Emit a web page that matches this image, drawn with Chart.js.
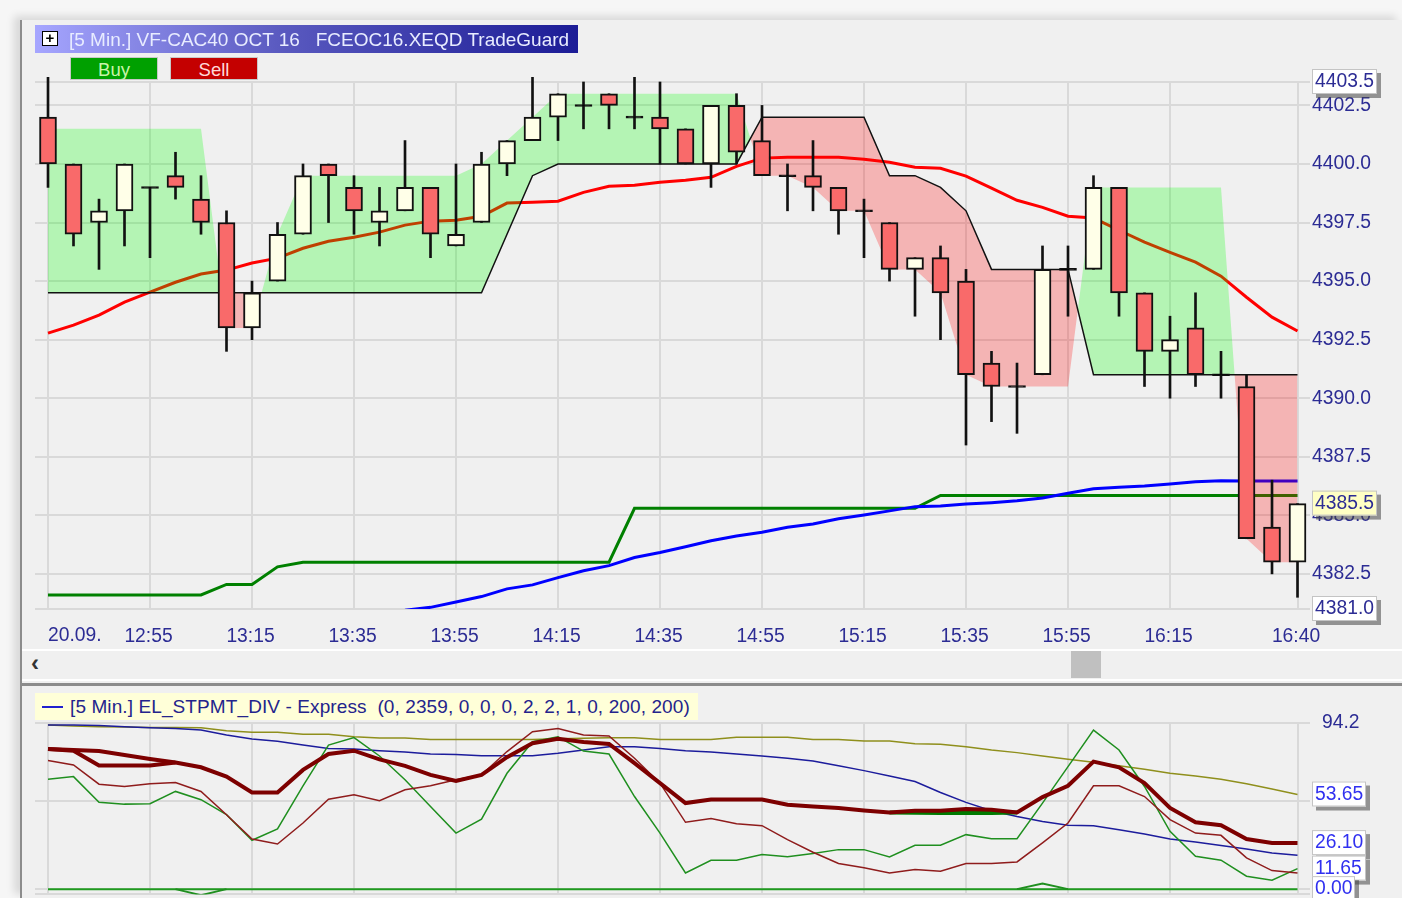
<!DOCTYPE html>
<html>
<head>
<meta charset="utf-8">
<title>VF-CAC40 OCT 16</title>
<script src="https://cdn.jsdelivr.net/npm/chart.js@4"></script>
<style>
html,body{margin:0;padding:0;background:#fff;overflow:hidden;}
#root{position:relative;width:1402px;height:898px;overflow:hidden;background:#f6f6f6;font-family:"Liberation Sans",Arial,sans-serif;filter:blur(.45px);}
#frame{position:absolute;left:20px;top:20px;width:1382px;height:878px;background:#f0f0f0;border-left:2px solid #8c8c8c;box-sizing:border-box;box-shadow:-6px -4px 8px rgba(0,0,0,.12);}
canvas{position:absolute;left:0;}
#mainChart{top:0;}
#subChart{top:685px;}
#titleBar{position:absolute;left:35px;top:25px;width:543px;height:28px;line-height:29px;color:#e8ecff;font-size:19px;white-space:pre;background:linear-gradient(90deg,#a6a6ff,#5a5ac0 45%,#1c1c96);}
#titleBar b{position:absolute;left:7px;top:6px;width:14px;height:13px;border:1.5px solid #000;background:#fff;color:#000;font:bold 15px/12px "Liberation Sans";text-align:center;}
#titleBar span{position:absolute;left:34px;top:0;}
.btn{position:absolute;top:57px;width:88px;height:23px;line-height:23px;text-align:center;font-size:18.5px;border:1px solid #c8c8c8;box-sizing:border-box;}
#buy{left:70px;background:#00a000;color:#c8f4a8;}
#sell{left:170px;background:#c40000;color:#ffd8d8;}
#scrollRow{position:absolute;left:22px;top:649px;width:1380px;height:32px;background:#f0f0f0;border-top:2px solid #fff;border-bottom:2px solid #fff;box-sizing:border-box;}
#arrow{position:absolute;left:9px;top:-6px;font:bold 24px/36px "Liberation Sans";color:#333;}
#thumb{position:absolute;left:1049px;top:0;width:30px;height:27px;background:#c0c0c0;}
#split{position:absolute;left:20px;top:683px;width:1382px;height:3px;background:#8c8c8c;}
#legendBox{position:absolute;left:35px;top:693px;width:663px;height:27px;line-height:27px;background:#ffffd8;color:#24248c;font-size:19px;letter-spacing:.1px;white-space:pre;}
#legendBox i{position:absolute;left:7px;top:13px;width:21px;height:2px;background:#2020d0;}
#legendBox span{position:absolute;left:35px;top:0;}
</style>
</head>
<body>
<div id="root">
  <div id="frame"></div>
  <div id="scrollRow"><div id="arrow">‹</div><div id="thumb"></div></div>
  <div id="split"></div>
  <canvas id="mainChart" width="1402" height="650"></canvas>
  <canvas id="subChart" width="1402" height="233"></canvas>
  <div id="titleBar"><b>+</b><span>[5 Min.] VF-CAC40 OCT 16   FCEOC16.XEQD TradeGuard</span></div>
  <div class="btn" id="buy">Buy</div>
  <div class="btn" id="sell">Sell</div>
  <div id="legendBox"><i></i><span>[5 Min.] EL_STPMT_DIV - Express  (0, 2359, 0, 0, 0, 2, 2, 1, 0, 200, 200)</span></div>
</div>
<script>
// candles, one entry per 5 min bar
const opens  = [4402,4400,4397.5,4398,4399,4399.5,4398.5,4397.5,4393,4395,4397,4400,4399,4397.5,4398,4399,4396.5,4397.5,4400,4401,4402,4402.5,4403,4402,4402,4401.5,4400,4402.5,4401,4399.5,4399.5,4399,4398,4397.5,4395.5,4396,4395,4391.5,4390.5,4391,4395.5,4395.5,4399,4394.5,4392,4393,4391,4390.5,4384.5,4383];
const highs  = [4403.7,4400,4398.5,4400,4399,4400.5,4399.5,4398,4395,4397.5,4400,4400,4399.5,4399,4401,4399,4400,4400.5,4401,4403.7,4403,4403.5,4403,4403.7,4403.5,4401.5,4402.5,4403,4402.5,4400,4401,4399,4398.5,4397.5,4396,4396.5,4395.5,4392,4391.5,4396.5,4396.5,4399.5,4399,4394.5,4393.5,4394.5,4392,4391,4386.5,4385.5];
const lows   = [4399,4396.5,4395.5,4396.5,4396,4398.5,4397,4392,4392.5,4395,4397,4397.5,4397,4396.5,4398,4396,4396.5,4397.5,4399.5,4401,4401,4401.5,4401.5,4401.5,4400,4400,4399,4400,4399.5,4398,4398,4397,4396,4395,4393.5,4392.5,4388,4389,4388.5,4391,4393.5,4395.5,4393.5,4390.5,4390,4390.5,4390,4384,4382.5,4381.5];
const closes = [4400,4397,4398,4400,4399,4399,4397.5,4393,4394.5,4397,4399.5,4399.5,4398,4398,4399,4397,4397,4400,4401,4402,4403,4402.5,4402.5,4402,4401.5,4400,4402.5,4400.5,4399.5,4399.5,4399,4398,4398,4395.5,4396,4394.5,4391,4390.5,4390.5,4395.5,4395.5,4399,4394.5,4392,4392.5,4391,4391,4384,4383,4385.5];

// TradeGuard stop line and the band it is filled against
const stopLine = [4394.5,4394.5,4394.5,4394.5,4394.5,4394.5,4394.5,4394.5,4394.5,4394.5,4394.5,4394.5,4394.5,4394.5,4394.5,4394.5,4394.5,4394.5,4397,4399.5,4400,4400,4400,4400,4400,4400,4400,4400,4402,4402,4402,4402,4402,4399.5,4399.5,4399,4398,4395.5,4395.5,4395.5,4395.5,4391,4391,4391,4391,4391,4391,4391,4391,4391];
const bandLine = [4401.5,4401.5,4401.5,4401.5,4401.5,4401.5,4401.5,4393,4393,4397,4399.5,4399.5,4399.5,4399.5,4399.5,4399.5,4399.5,4400,4401,4402,4403,4403,4403,4403,4403,4403,4403,4403,4399.5,4399.5,4399,4398,4398,4395.5,4395.5,4394.5,4391,4390.5,4390.5,4390.5,4390.5,4399,4399,4399,4399,4399,4399,4384,4383,4383];

// moving averages
const redMa = [4392.78,4393.12,4393.55,4394.1,4394.53,4394.95,4395.3,4395.47,4395.77,4395.98,4396.4,4396.7,4396.87,4397.09,4397.39,4397.56,4397.6,4397.77,4398.33,4398.37,4398.41,4398.79,4399.05,4399.09,4399.22,4399.31,4399.43,4399.9,4400.25,4400.29,4400.29,4400.29,4400.2,4400.07,4399.86,4399.82,4399.48,4398.97,4398.45,4398.15,4397.77,4397.69,4397.17,4396.66,4396.23,4395.81,4395.21,4394.31,4393.46,4392.87];
const blueMa = [null,null,null,null,null,null,null,null,null,null,null,null,null,null,4380.95,4381.07,4381.3,4381.53,4381.86,4382.03,4382.34,4382.63,4382.85,4383.2,4383.41,4383.66,4383.91,4384.12,4384.28,4384.49,4384.63,4384.85,4385.01,4385.19,4385.37,4385.4,4385.48,4385.54,4385.62,4385.74,4385.94,4386.13,4386.2,4386.25,4386.34,4386.43,4386.48,4386.47,4386.47,4386.47];
const greenMa = [4381.6,4381.6,4381.6,4381.6,4381.6,4381.6,4381.6,4382.05,4382.05,4382.8,4383,4383,4383,4383,4383,4383,4383,4383,4383,4383,4383,4383,4383,4385.3,4385.3,4385.3,4385.3,4385.3,4385.3,4385.3,4385.3,4385.3,4385.3,4385.3,4385.3,4385.85,4385.85,4385.85,4385.85,4385.85,4385.85,4385.85,4385.85,4385.85,4385.85,4385.85,4385.85,4385.85,4385.85,4385.85];

// lower panel
const oliveLine = [93,92.5,92.1,91.9,91.7,91.7,91.5,89.8,88.9,88.9,87.8,87.8,86.4,85.7,85.7,84.9,84.9,84.9,84.9,84.9,85.3,85.5,85.9,85.9,84.9,84.9,84.9,86.1,86.1,86.1,84.9,84.9,84,84,82.5,82.1,80.8,78.9,77.4,75.5,73.6,71.9,69.9,68,65.7,64.2,62.3,59.7,56.8,53.65];
const navyLine = [93,93,92.8,92.1,91.5,91.1,90.2,87.4,85.1,83.8,81.7,79.8,79.5,78.5,77.8,76.6,76.3,75.7,75.7,75.7,77,78.9,80.8,80.8,79.8,78.5,77.8,76.6,75.5,74.2,72.7,69.9,67.2,64.2,61,54.8,49.2,44.4,41.2,38.4,36.2,36,33.7,31.3,28.4,26.7,24.7,22.8,20.5,19.2];
const thickLine = [79.5,78.9,78.3,76.1,73.8,71.8,69.1,63.8,54.8,54.8,67.6,76.6,78.5,73.6,69.9,64.8,61.4,64.8,74.8,82.7,85.3,83.4,82.3,71.4,60.1,48.8,50.8,50.8,50.8,47.8,46.9,46,44.6,43.5,44.4,44.4,45.4,45,43.5,52.2,58.6,72.3,69.1,60.1,46,37.9,36.2,28.4,26.2,26.1];
const thickLower = [79.5,78.5,70.1,70.1,70.1,71.8];
const thickGreen = [null,null,null,null,null,null,null,null,null,null,null,null,null,null,null,null,null,null,null,null,null,null,null,null,null,null,null,null,null,null,null,null,null,43.5,43.3,43.1,43.1,43.1,43.5];
const thinRed = [72.9,70.4,59.5,58.2,59.7,60.5,55.4,42.2,28.4,25.6,37.5,51,53.5,50.1,56.3,58.6,62,64.8,78,89.3,91.1,87.4,86.8,74.2,60.1,37.9,40.1,37.1,36,28.1,20.9,14.5,12.1,9.2,11.1,10.2,14.5,14.5,15.4,26.2,37.5,58.6,58.6,52.5,39.4,31.8,30.5,17.7,10.5,9.2];
const thinGreen = [62.3,63.8,49.3,48.2,48.4,55.4,50.7,42.2,27.7,34.1,58.6,81.7,85.9,75.5,62,46.9,31.8,39.7,65.7,83.6,86.4,78.3,76.6,52.5,31.8,9.2,16.4,16.4,19.6,18.3,20.2,22.4,22.4,18.3,24.9,24.9,30.9,28.6,28.6,48.8,69.5,90.2,78.9,58.2,32.8,18.6,16.4,7.3,5.1,11.65];
const zeroLine = [0,0,0,0,0,0,0,0,0,0,0,0,0,0,0,0,0,0,0,0,0,0,0,0,0,0,0,0,0,0,0,0,0,0,0,0,0,0,0,0,0,0,0,0,0,0,0,0,0,0];
const divLine = [null,null,null,null,null,0,-3.4,0,null,null,null,null,null,null,null,null,null,null,null,null,null,null,null,null,null,null,null,null,null,null,null,null,null,null,null,null,null,null,0,3.2,0];

// axes
const xTickBars = [0,4,8,12,16,20,24,28,32,36,40,44,49];
const xTickLabels = ['20.09.','12:55','13:15','13:35','13:55','14:15','14:35','14:55','15:15','15:35','15:55','16:15','16:40'];
const priceTicks = [4381,4382.5,4385,4387.5,4390,4392.5,4395,4397.5,4400,4402.5,4403.5];
const priceTags = [[4403.5,'4403.5','#ffffff'],[4385.5,'4385.5','#ffffc4'],[4381,'4381.0','#ffffff']];
const subTicks = [-3,0,50,94.2];
const subTags = [[53.65,'53.65',54],[26.1,'26.10',54],[11.65,'11.65',54],[0,'0.00',43]];

const GRID = '#d9d9d9', AXIS_TEXT = '#2c2c94', FONT = '"Liberation Sans", Arial, sans-serif', TEXT_SIZE = 19.3;

function xy(values){ return values.map((v,i)=>({x:i,y:v})); }
function lineSet(values, color, width, order, extra){
  return Object.assign({ type:'line', data:xy(values), borderColor:color, borderWidth:width, pointRadius:0, tension:0, order, spanGaps:false }, extra);
}

function xScale(height, showLabels){
  return {
    type:'linear', min:-0.51, max:49.49, offset:false,
    afterBuildTicks: s => { s.ticks = xTickBars.map(value=>({value})); },
    afterFit: s => { s.height = height; },
    grid:{ color:GRID, lineWidth:2, tickLength:0, offset:false },
    border:{ display:false },
    ticks:{
      display:showLabels, autoSkip:false, maxRotation:0, padding:16, labelOffset:-1.5, color:AXIS_TEXT, font:{ family:FONT, size:TEXT_SIZE },
      // the first label hangs right of its tick, see firstLabel plugin
      callback:(v)=> v === xTickBars[0] ? '' : xTickLabels[xTickBars.indexOf(v)],
    },
  };
}

const firstLabel = {
  id:'firstLabel',
  afterDraw(chart){
    const s = chart.scales.x, ctx = chart.ctx;
    ctx.save();
    ctx.font = TEXT_SIZE + 'px ' + FONT;
    ctx.fillStyle = AXIS_TEXT;
    ctx.textAlign = 'left';
    ctx.textBaseline = 'middle';
    ctx.fillText(xTickLabels[0], s.getPixelForValue(xTickBars[0]), 636);
    ctx.restore();
  },
};

function tag(chart, value, text, bg, fg, w){
  const ctx = chart.ctx, x = chart.chartArea.right + 2, y = chart.scales.y.getPixelForValue(value);
  ctx.save();
  ctx.fillStyle = 'rgba(70,70,70,.55)';
  ctx.fillRect(x+4, y-9, w, 25);
  ctx.fillStyle = bg;
  ctx.fillRect(x, y-13, w, 25);
  ctx.strokeStyle = '#c4c4c4';
  ctx.strokeRect(x+.5, y-12.5, w-1, 24);
  ctx.fillStyle = fg;
  ctx.font = TEXT_SIZE + 'px ' + FONT;
  ctx.textAlign = 'left';
  ctx.textBaseline = 'middle';
  ctx.fillText(text, x+3, y);
  ctx.restore();
}

const priceTagPlugin = { id:'priceTagPlugin', afterDraw(chart){ priceTags.forEach(t=>tag(chart, t[0], t[1], t[2], AXIS_TEXT, 65)); } };
const subTagPlugin = { id:'subTagPlugin', afterDraw(chart){ subTags.forEach(t=>tag(chart, t[0], t[1], '#ffffff', '#3030f0', t[2])); } };

function drawMain(){
  const isDoji = i => opens[i] === closes[i];
  const bodies = opens.map((o,i)=>({ x:i, y: isDoji(i) ? [o-0.04, o+0.04] : [o, closes[i]] }));
  const wicks = lows.map((l,i)=>({ x:i, y:[l, highs[i]] }));
  const bodyColor = opens.map((o,i)=> isDoji(i) ? '#000000' : closes[i] > o ? '#ffffe8' : '#f96a6a');

  new Chart(document.getElementById('mainChart'), {
    type:'bar',
    data:{ datasets:[
      lineSet(redMa, '#ff0000', 3, 6),
      lineSet(blueMa, '#0000ff', 3, 6),
      lineSet(greenMa, '#008000', 3, 6),
      lineSet(stopLine, '#111111', 1.5, 4),
      lineSet(bandLine, 'rgba(0,0,0,0)', 0, 5, { fill:{ target:3, above:'rgba(0,255,0,.25)', below:'rgba(255,0,0,.25)' } }),
      { type:'bar', data:wicks, backgroundColor:'#111111', barThickness:2, grouped:false, order:3, clip:false, borderWidth:0 },
      { type:'bar', data:bodies, backgroundColor:bodyColor, borderColor:'#111111', borderWidth:2, borderSkipped:false, barThickness:17, grouped:false, order:2, clip:false },
    ]},
    options:{
      responsive:false, animation:false, devicePixelRatio:1,
      layout:{ padding:{ top:82, left:35, right:0, bottom:0 } },
      plugins:{ legend:{ display:false }, tooltip:{ enabled:false } },
      scales:{
        x: xScale(41, true),
        y:{
          position:'right', min:4381, max:4403.5,
          afterBuildTicks: s => { s.ticks = priceTicks.map(value=>({value})); },
          afterFit: s => { s.width = 92; },
          grid:{ color:GRID, lineWidth:2, tickLength:0 },
          border:{ display:false },
          ticks:{ autoSkip:false, padding:2, color:AXIS_TEXT, font:{ family:FONT, size:TEXT_SIZE }, callback:v=> v===4381||v===4403.5 ? '' : v.toFixed(1) },
        },
      },
    },
    plugins:[firstLabel, priceTagPlugin],
  });
}

function drawSub(){
  new Chart(document.getElementById('subChart'), {
    type:'line',
    data:{ datasets:[
      lineSet(zeroLine, '#1f9a1f', 2, 8),
      lineSet(divLine, '#1f8f1f', 2, 7),
      lineSet(oliveLine, '#8f8f1c', 1.5, 6),
      lineSet(navyLine, '#1c1c9c', 1.5, 5),
      lineSet(thinGreen, '#1f8f1f', 1.5, 4),
      lineSet(thinRed, '#8f1c1c', 1.5, 3),
      lineSet(thickGreen, '#007a00', 4, 2),
      lineSet(thickLower, '#7d0000', 4, 1),
      lineSet(thickLine, '#7d0000', 4, 1),
    ]},
    options:{
      responsive:false, animation:false, devicePixelRatio:1,
      layout:{ padding:{ top:38, left:35, right:0, bottom:0 } },
      plugins:{ legend:{ display:false }, tooltip:{ enabled:false } },
      scales:{
        x: xScale(3, false),
        y:{
          position:'right', min:-3, max:94.2,
          afterBuildTicks: s => { s.ticks = subTicks.map(value=>({value})); },
          afterFit: s => { s.width = 92; },
          grid:{ color:GRID, lineWidth:2, tickLength:0 },
          border:{ display:false },
          ticks:{ autoSkip:false, padding:12, color:AXIS_TEXT, font:{ family:FONT, size:TEXT_SIZE }, callback:v=> v===94.2 ? '94.2' : '' },
        },
      },
    },
    plugins:[subTagPlugin],
  });
}

drawMain();
drawSub();
</script>
</body>
</html>
